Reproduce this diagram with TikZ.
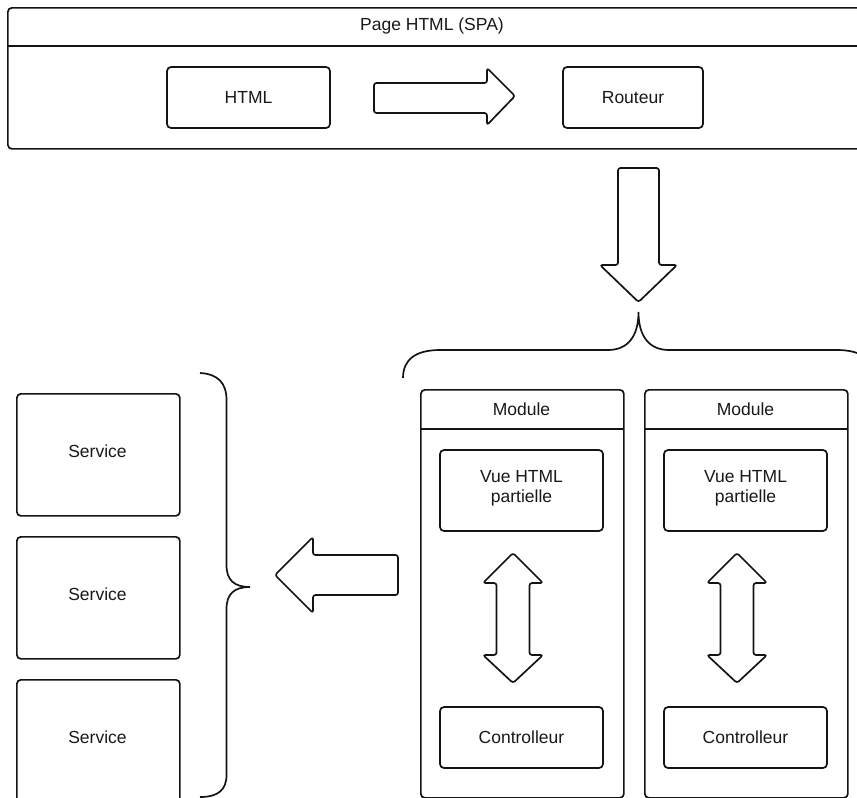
\documentclass[tikz,border=0pt]{standalone}
\usepackage{fontspec}
\setmainfont{Liberation Sans}
\begin{document}
\begin{tikzpicture}[x=1pt,y=-1pt,
  ln/.style={line width=1.7pt, draw=black!92},
  box/.style={ln, rounded corners=4pt, fill=white, inner sep=0pt},
  lbl/.style={font=\fontsize{17.5}{21}\selectfont, text=black!90},
  blockarrow/.style={ln, rounded corners=2.5pt, line join=round}]
\useasboundingbox (0,0) rectangle (857,798);
\clip (0,0) rectangle (857,798);
% top page container
\node[box, anchor=north west, minimum width=860pt, minimum height=141pt] (page) at (7,7) {};
\coordinate (hdrL) at (7,46);
\coordinate (hdrR) at (870,46);
\draw[ln] (hdrL) -- (hdrR);
\node[lbl] (pagetitle) at (432,26) {Page HTML (SPA)};
\node[box, lbl, minimum width=163pt, minimum height=61pt] (html) at (248.5,97.5) {HTML};
\node[box, lbl, minimum width=140pt, minimum height=61pt] (routeur) at (633,97.5) {Routeur};
% right block arrow
\draw[blockarrow] (374,83) -- (487,83) -- (487,68) -- (515,96) -- (487,125) -- (487,113) -- (374,113) -- cycle;
% down block arrow
\draw[blockarrow] (618,168) -- (659,168) -- (659,265) -- (677,265) -- (638.5,302) -- (600,265) -- (618,265) -- cycle;
% top brace
\draw[ln] (403,378) .. controls (403,360) and (415,350) .. (440,350) -- (608,350)
  .. controls (628,350) and (638.5,336) .. (638.5,312)
  .. controls (638.5,336) and (649,350) .. (669,350) -- (837,350)
  .. controls (862,350) and (874,360) .. (874,378);
% modules
\foreach \i/\dx in {1/0, 2/224} {
  \node[box, anchor=north west, minimum width=203pt, minimum height=408pt] (mod\i) at (420+\dx,389) {};
  \coordinate (mh\i L) at (420+\dx,429);
  \coordinate (mh\i R) at (623+\dx,429);
  \draw[ln] (mh\i L) -- (mh\i R);
  \node[lbl] (modt\i) at (521.5+\dx,409) {Module};
  \node[box, minimum width=163pt, minimum height=81pt] (vue\i) at (521.5+\dx,490.5) {};
  \node[lbl, align=center] (vuet\i) at (521.5+\dx,488) {Vue HTML\\[-1pt]partielle};
  \node[box, lbl, minimum width=163pt, minimum height=61pt] (ctrl\i) at (521.5+\dx,737.5) {Controlleur};
  \begin{scope}[xshift=\dx]
  \draw[blockarrow] (513,553) -- (543,583) -- (529.5,583) -- (529.5,655) -- (543,655) -- (513,683)
     -- (483,655) -- (496.5,655) -- (496.5,583) -- (483,583) -- cycle;
  \end{scope}
}
% left block arrow
\draw[blockarrow] (398,555) -- (398,595) -- (313,595) -- (313,613) -- (275,575) -- (313,537) -- (313,555) -- cycle;
% services
\node[box, anchor=north west, minimum width=163pt, minimum height=122pt] (svc1) at (16,393) {};
\node[lbl] (svc1t) at (97.5,451) {Service};
\node[box, anchor=north west, minimum width=163pt, minimum height=122pt] (svc2) at (16,536) {};
\node[lbl] (svc2t) at (97.5,594) {Service};
\node[box, anchor=north west, minimum width=163pt, minimum height=130pt] (svc3) at (16,679) {};
\node[lbl] (svc3t) at (97.5,737) {Service};
% left brace
\draw[ln] (200,373) .. controls (218,374) and (226.5,383) .. (226.5,400) -- (226.5,565)
  .. controls (226.5,580) and (234,587) .. (250,587)
  .. controls (234,587) and (226.5,594) .. (226.5,609) -- (226.5,775)
  .. controls (226.5,790) and (218,797) .. (200,797);
\end{tikzpicture}
\end{document}
